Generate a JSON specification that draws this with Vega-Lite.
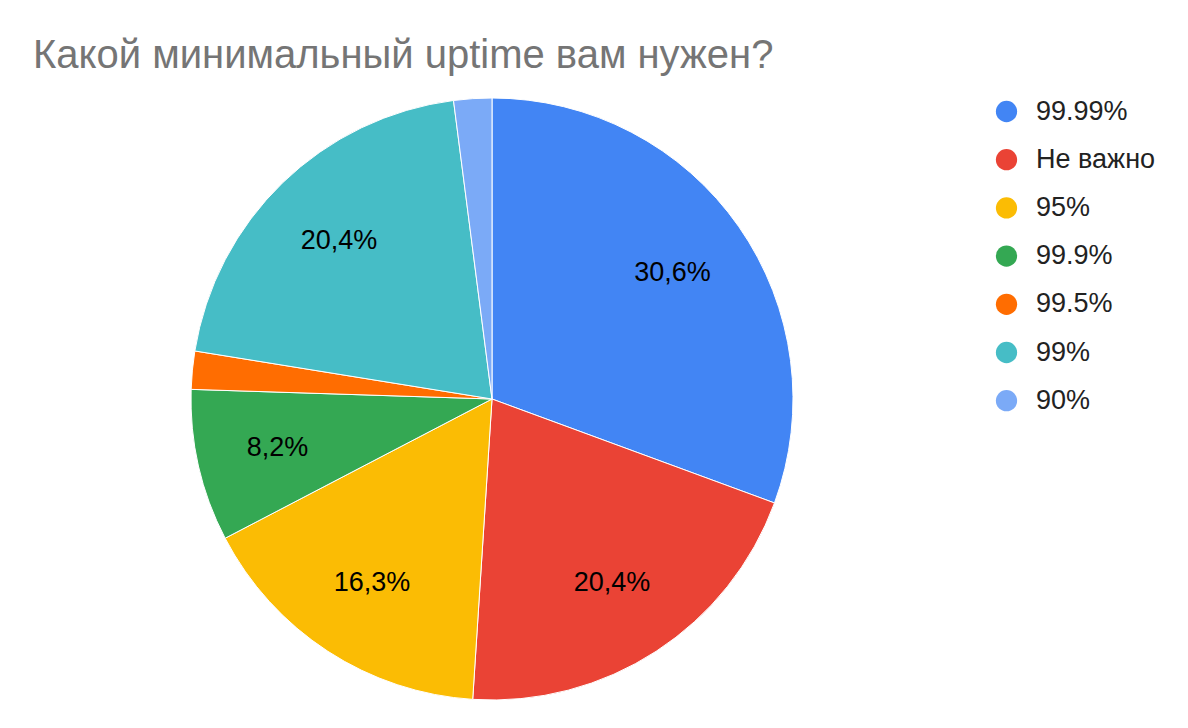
{
  "$schema": "https://vega.github.io/schema/vega-lite/v6.json",
  "width": 1188,
  "height": 648,
  "autosize": "none",
  "padding": {"top": 80, "left": 0, "right": 0, "bottom": 0},
  "background": "white",
  "title": {
    "text": "Какой минимальный uptime вам нужен?",
    "anchor": "start",
    "frame": "group",
    "baseline": "alphabetic",
    "offset": 15,
    "dx": 33,
    "dy": 43,
    "font": "Liberation Sans",
    "fontSize": 40,
    "fontWeight": "normal",
    "color": "#757575"
  },
  "data": {
    "values": [
      {"i": 1, "answer": "99.99%", "count": 15, "label": "30,6%"},
      {"i": 2, "answer": "Не важно", "count": 10, "label": "20,4%"},
      {"i": 3, "answer": "95%", "count": 8, "label": "16,3%"},
      {"i": 4, "answer": "99.9%", "count": 4, "label": "8,2%"},
      {"i": 5, "answer": "99.5%", "count": 1, "label": ""},
      {"i": 6, "answer": "99%", "count": 10, "label": "20,4%"},
      {"i": 7, "answer": "90%", "count": 1, "label": ""}
    ]
  },
  "encoding": {
    "theta": {"field": "count", "type": "quantitative", "stack": true},
    "order": {"field": "i", "type": "quantitative"},
    "color": {
      "field": "answer",
      "type": "nominal",
      "scale": {
        "domain": ["99.99%", "Не важно", "95%", "99.9%", "99.5%", "99%", "90%"],
        "range": ["#4285F4", "#EA4335", "#FBBC04", "#34A853", "#FF6D01", "#46BDC6", "#7BAAF7"]
      },
      "legend": {
        "title": null,
        "orient": "none",
        "legendX": 993,
        "legendY": 18,
        "symbolType": "circle",
        "symbolSize": 452,
        "symbolStrokeWidth": 0,
        "labelFont": "Liberation Sans",
        "labelFontSize": 27,
        "labelColor": "#222222",
        "labelOffset": 16,
        "rowPadding": 20.2,
        "padding": 0
      }
    }
  },
  "layer": [
    {
      "mark": {"type": "arc", "x": 492, "y": 319, "outerRadius": 301, "stroke": "white", "strokeWidth": 1}
    },
    {
      "mark": {"type": "text", "x": 492, "y": 319, "radius": 220, "font": "Liberation Sans", "fontSize": 27, "color": "black", "fill": "black"},
      "encoding": {
        "text": {"field": "label"},
        "color": {"value": "black"}
      }
    }
  ]
}
